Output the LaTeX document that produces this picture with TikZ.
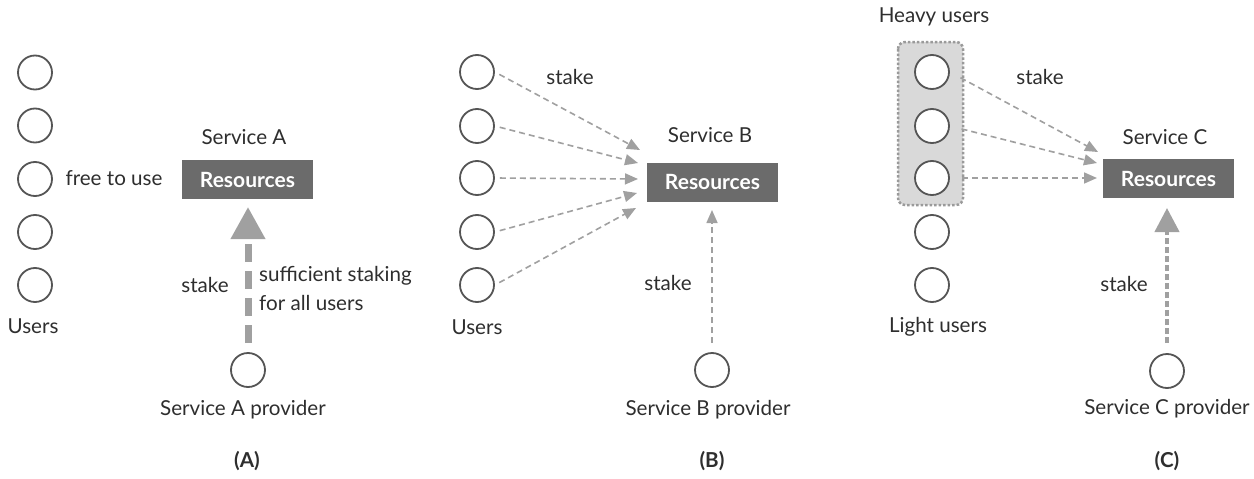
\documentclass[tikz,border=0pt]{standalone}
\usepackage{fontspec}
\setmainfont{Lato}
\usetikzlibrary{arrows.meta}
\definecolor{txt}{HTML}{2E2E2E}
\definecolor{ring}{HTML}{555555}
\definecolor{resfill}{HTML}{6B6B6B}
\definecolor{arr}{HTML}{A0A0A0}
\definecolor{grp}{HTML}{D9D9D9}
\definecolor{grpline}{HTML}{9A9A9A}
\tikzset{
  lbl/.style={text=txt,font=\fontsize{20.6}{25}\selectfont,inner sep=0pt},
  usr/.style={circle,draw=ring,line width=1.8pt,fill=white,minimum size=34pt,inner sep=0pt},
  res/.style={fill=resfill,text=white,font=\fontsize{21}{25}\selectfont\bfseries,minimum width=131pt,minimum height=39pt,inner sep=0pt},
  thin/.style={draw=arr,line width=1.6pt,dash pattern=on 6pt off 4pt,-{Triangle[length=13pt,width=11pt]}},
  thickA/.style={draw=arr,line width=7pt,dash pattern=on 18pt off 9pt,-{Triangle[length=32pt,width=33pt]}},
  thickC/.style={draw=arr,line width=4.2pt,dash pattern=on 6pt off 3pt,-{Triangle[length=24pt,width=24pt]}},
  panel/.style={text=txt,font=\fontsize{20.6}{25}\selectfont\bfseries,inner sep=0pt}
}
\begin{document}
\begin{tikzpicture}[x=1pt,y=-1pt]
\useasboundingbox (0,0) rectangle (1254,479);
% ---------- Panel A ----------
\foreach \i/\y in {1/72.5,2/125.5,3/179,4/232,5/285}
  \node[usr] (a\i) at (35,\y) {};
\node[lbl] (ausers) at (33,326) {Users};
\node[lbl] (afree) at (114,178) {free to use};
\node[lbl] (asvc) at (244,137) {Service A};
\node[res] (ares) at (247.5,179.5) {Resources};
\node[usr] (aprov) at (248,370) {};
\node[lbl] (aprovl) at (243,410) {Service A provider};
\coordinate (atip) at (248,207);
\draw[thickA,shorten <=9pt] (aprov.north) -- (atip);
\node[lbl] (astake) at (205,285) {stake};
\node[lbl,anchor=west] (asuf1) at (259,276) {sufficient staking};
\node[lbl,anchor=west] (asuf2) at (259,303) {for all users};
\node[panel] (pA) at (247,461) {(A)};
% ---------- Panel B ----------
\foreach \i/\y in {1/72,2/126,3/178,4/232,5/285}
  \node[usr] (b\i) at (477,\y) {};
\node[lbl] (busers) at (477,327) {Users};
\node[lbl] (bstake1) at (570,77) {stake};
\node[lbl] (bsvc) at (710,135) {Service B};
\node[res] (bres) at (712.5,182) {Resources};
\coordinate (bt1) at (640,150);
\coordinate (bt2) at (638,163);
\coordinate (bt3) at (638,179);
\coordinate (bt4) at (637,193);
\coordinate (bt5) at (636,208);
\foreach \i in {1,...,5}
  \draw[thin,shorten <=5pt] (b\i.east) -- (bt\i);
\node[usr] (bprov) at (712,370) {};
\coordinate (btip) at (712,210);
\draw[thin,shorten <=9pt] (bprov.north) -- (btip);
\node[lbl] (bstake2) at (668,283) {stake};
\node[lbl] (bprovl) at (708,410) {Service B provider};
\node[panel] (pB) at (712,461) {(B)};
% ---------- Panel C ----------
\node[lbl] (heavy) at (934,17) {Heavy users};
\draw[fill=grp,draw=grpline,line width=2.5pt,dash pattern=on 2.5pt off 2pt,rounded corners=7pt] (898,42) rectangle (963,205);
\foreach \i/\y in {1/72,2/126,3/178,4/232,5/285}
  \node[usr] (c\i) at (932,\y) {};
\node[lbl] (light) at (938,327) {Light users};
\node[lbl] (cstake1) at (1040,77) {stake};
\node[lbl] (csvc) at (1165,137) {Service C};
\node[res] (cres) at (1168.5,178.5) {Resources};
\coordinate (ct1) at (1098,152);
\coordinate (ct2) at (1097,163);
\coordinate (ct3) at (1097,178);
\foreach \i in {1,2,3}
  \draw[thin,shorten <=12pt] (c\i.east) -- (ct\i);
\node[usr] (cprov) at (1167,371) {};
\coordinate (ctip) at (1167,208);
\draw[thickC,shorten <=10pt] (cprov.north) -- (ctip);
\node[lbl] (cstake2) at (1124,284) {stake};
\node[lbl] (cprovl) at (1167,409) {Service C provider};
\node[panel] (pC) at (1167,461) {(C)};
\end{tikzpicture}
\end{document}
